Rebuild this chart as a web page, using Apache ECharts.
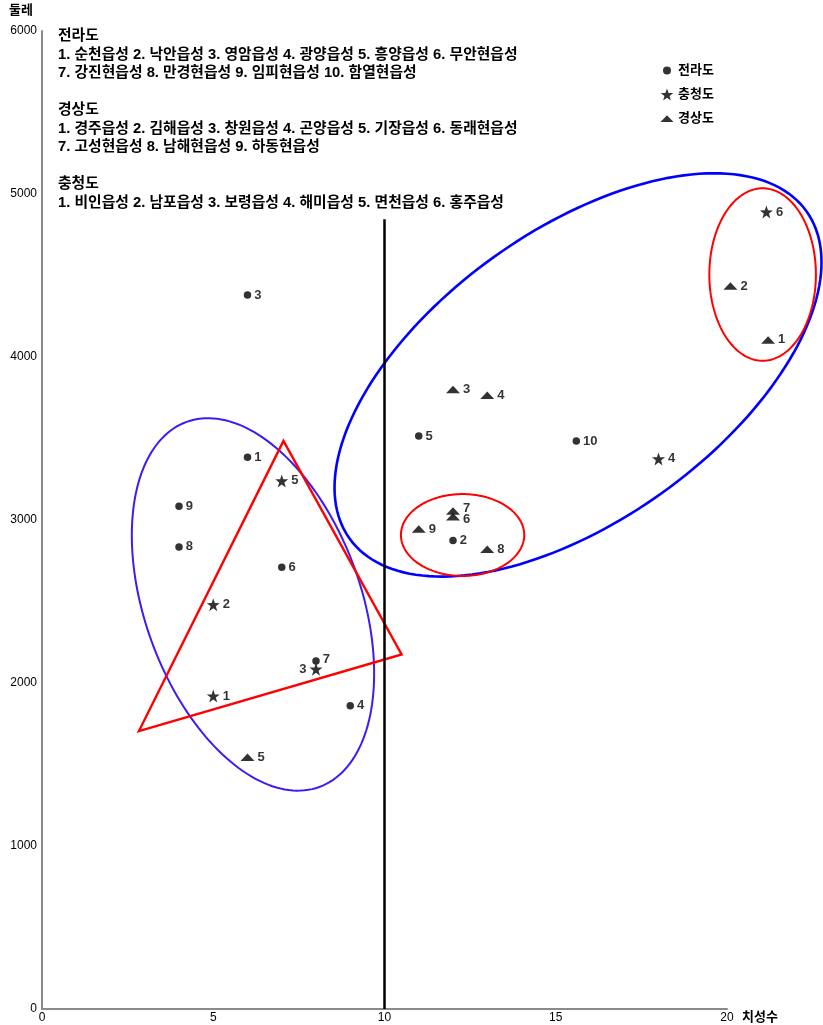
<!DOCTYPE html>
<html>
<head>
<meta charset="utf-8">
<script src="https://cdn.jsdelivr.net/npm/echarts@6/dist/echarts.min.js"></script>
<style>
  html, body { margin: 0; padding: 0; background: #fff; }
  #chart { width: 823px; height: 1025px; }
</style>
</head>
<body>
<div id="chart"></div>
<script>
// 읍성별 치성수(x)와 둘레(y)
const jeolla = [
  [6, 3385], [12, 2875], [6, 4380], [9, 1860], [11, 3515],
  [7, 2710], [8, 2135], [4, 2835], [4, 3085], [15.6, 3485]
];
const chungcheong = [
  [5, 1920], [5, 2480], [8, 2085], [18, 3375], [7, 3240], [21.15, 4890]
];
const gyeongsang = [
  [21.2, 4105], [20.1, 4435], [12, 3800], [13, 3765], [6, 1545],
  [12, 3020], [12, 3055], [13, 2820], [11, 2945]
];

const jeollaNames = ['순천읍성', '낙안읍성', '영암읍성', '광양읍성', '흥양읍성', '무안현읍성', '강진현읍성', '만경현읍성', '임피현읍성', '함열현읍성'];
const gyeongsangNames = ['경주읍성', '김해읍성', '창원읍성', '곤양읍성', '기장읍성', '동래현읍성', '고성현읍성', '남해현읍성', '하동현읍성'];
const chungcheongNames = ['비인읍성', '남포읍성', '보령읍성', '해미읍성', '면천읍성', '홍주읍성'];

const xTicks = [0, 5, 10, 15, 20];
const yTicks = [0, 1000, 2000, 3000, 4000, 5000, 6000];

// 구분선 (치성수 10)
const dividerX = 10;
const dividerTop = 4845;

// 묶음 표시: 타원은 중심과 두 켤레 반지름 벡터(데이터 단위)
const groupEllipses = [
  { c: [15.65, 3890], a: [6.67, 1004], b: [2.46, -723], color: '#0000ff', width: 2.6 },
  { c: [6.16, 2482], a: [1.936, -1120], b: [2.961, 226], color: '#3c1cf5', width: 2 },
  { c: [12.28, 2908], a: [1.80, 0], b: [0, 251], color: '#ff0000', width: 2 },
  { c: [21.04, 4506], a: [1.556, 0], b: [0, 529], color: '#ff0000', width: 2 }
];
const groupTriangle = [[7.05, 3485], [10.5, 2175], [2.83, 1705]];

const FONT = '"Liberation Sans", "Noto Sans CJK KR", sans-serif';
const TICK_FONT = '"Liberation Sans Narrow", "Liberation Sans", sans-serif';

// 오각 별 모양 경로
function starPath(cx, cy, R, r) {
  let d = '';
  for (let k = 0; k < 10; k++) {
    const ang = -Math.PI / 2 + k * Math.PI / 5;
    const rad = k % 2 === 0 ? R : r;
    const x = (cx + rad * Math.cos(ang)).toFixed(2);
    const y = (cy + rad * Math.sin(ang)).toFixed(2);
    d += (k === 0 ? 'M' : 'L') + x + ',' + y + ' ';
  }
  return d + 'Z';
}

const STAR = 'path://' + starPath(50, 52, 50, 20);
const FLAT_TRI = 'path://M0,10 L10,0 L20,10 Z';

// 범례 아이콘: 14x12 상자 안에 그린다
const LEGEND_CIRCLE = 'path://M0,0 M14,12 M7,2 A4,4 0 1 1 6.99,2 Z';
const LEGEND_STAR = 'path://M0,0 M14,12 ' + starPath(7, 6.4, 6.8, 2.8);
const LEGEND_TRI = 'path://M0,0 M14,12 M0.5,9.5 L7,2.8 L13.5,9.5 Z';

function numberedList(names, perLine) {
  const parts = names.map((n, i) => (i + 1) + '. ' + n);
  const lines = [];
  for (let i = 0; i < parts.length; i += perLine) lines.push(parts.slice(i, i + perLine).join(' '));
  return lines.join('\n');
}

const listText = [
  '전라도', numberedList(jeollaNames, 6), '',
  '경상도', numberedList(gyeongsangNames, 6), '',
  '충청도', numberedList(chungcheongNames, 6)
].join('\n');

// 겹치는 번호의 위치 조정
const labelTweaks = {
  '전라도': { 6: { offset: [0, -2] } },
  '충청도': { 2: { position: 'left' } },
  '경상도': { 5: { offset: [0, 3] }, 6: { offset: [0, -3] } }
};

function toItems(name, arr) {
  return arr.map((v, i) => {
    const t = labelTweaks[name] && labelTweaks[name][i];
    return t ? { value: v, label: t } : { value: v };
  });
}

const pointLabel = {
  show: true,
  position: 'right',
  distance: 3,
  color: '#000',
  fontFamily: FONT,
  fontWeight: 'bold',
  fontSize: 13,
  formatter: p => String(p.dataIndex + 1)
};

function ellipsePoints(api, e) {
  const pts = [];
  const n = 180;
  for (let k = 0; k <= n; k++) {
    const t = (k / n) * Math.PI * 2;
    const x = e.c[0] + Math.cos(t) * e.a[0] + Math.sin(t) * e.b[0];
    const y = e.c[1] + Math.cos(t) * e.a[1] + Math.sin(t) * e.b[1];
    pts.push(api.coord([x, y]));
  }
  return pts;
}

const chart = echarts.init(document.getElementById('chart'), null, { renderer: 'canvas' });

chart.setOption({
  animation: false,
  backgroundColor: '#fff',
  textStyle: { fontFamily: FONT },
  title: {
    text: listText,
    left: 53,
    top: 22,
    textStyle: { fontFamily: FONT, fontSize: 14.8, fontWeight: 'bold', color: '#000', lineHeight: 18.5 }
  },
  legend: {
    orient: 'vertical',
    left: 655,
    top: 59,
    itemWidth: 14,
    itemHeight: 12,
    itemGap: 11,
    itemStyle: { color: '#000' },
    data: [
      { name: '전라도', icon: LEGEND_CIRCLE },
      { name: '충청도', icon: LEGEND_STAR },
      { name: '경상도', icon: LEGEND_TRI }
    ],
    textStyle: { fontFamily: FONT, fontSize: 13, fontWeight: 'bold', color: '#000', padding: [0, 0, 0, -1] }
  },
  grid: { left: 42, right: 96, top: 31, bottom: 16, containLabel: false, outerBoundsMode: 'none' },
  xAxis: {
    type: 'value',
    min: xTicks[0],
    max: xTicks[xTicks.length - 1],
    interval: 5,
    name: '치성수',
    nameLocation: 'end',
    nameGap: 15,
    nameTextStyle: { fontFamily: FONT, fontSize: 13, fontWeight: 'bold', color: '#000', verticalAlign: 'top', lineHeight: 17 },
    axisLine: { show: true, lineStyle: { color: '#8a8a8a', width: 2 } },
    axisTick: { show: false },
    splitLine: { show: false },
    axisLabel: { margin: 3, fontFamily: TICK_FONT, fontSize: 12, color: '#000', formatter: v => String(v) }
  },
  yAxis: {
    type: 'value',
    min: yTicks[0],
    max: yTicks[yTicks.length - 1],
    interval: 1000,
    name: '둘레',
    nameLocation: 'end',
    nameGap: 14,
    nameTextStyle: { fontFamily: FONT, fontSize: 13, fontWeight: 'bold', color: '#000', align: 'right', padding: [0, 9, 0, 0] },
    axisLine: { show: true, lineStyle: { color: '#8a8a8a', width: 2 } },
    axisTick: { show: false },
    splitLine: { show: false },
    axisLabel: { margin: 5, fontFamily: TICK_FONT, fontSize: 12, color: '#000', formatter: v => String(v) }
  },
  series: [
    {
      type: 'custom',
      name: 'groups',
      silent: true,
      clip: false,
      z: 1,
      data: [0],
      renderItem: function (params, api) {
        const children = groupEllipses.map(e => ({
          type: 'polyline',
          shape: { points: ellipsePoints(api, e) },
          style: { stroke: e.color, lineWidth: e.width, fill: null }
        }));
        children.push({
          type: 'polygon',
          shape: { points: groupTriangle.map(p => api.coord(p)) },
          style: { stroke: '#ff0000', lineWidth: 2.4, fill: null, lineJoin: 'miter' }
        });
        const p0 = api.coord([dividerX, 0]);
        const p1 = api.coord([dividerX, dividerTop]);
        children.push({
          type: 'line',
          shape: { x1: p0[0], y1: p0[1], x2: p1[0], y2: p1[1] },
          style: { stroke: '#000', lineWidth: 2.5 }
        });
        return { type: 'group', children: children };
      }
    },
    {
      type: 'scatter',
      name: '전라도',
      clip: false,
      z: 3,
      symbol: 'circle',
      symbolSize: 7.5,
      itemStyle: { color: '#000' },
      label: pointLabel,
      data: toItems('전라도', jeolla)
    },
    {
      type: 'scatter',
      name: '충청도',
      clip: false,
      z: 3,
      symbol: STAR,
      symbolSize: 13,
      itemStyle: { color: '#000' },
      label: pointLabel,
      data: toItems('충청도', chungcheong)
    },
    {
      type: 'scatter',
      name: '경상도',
      clip: false,
      z: 3,
      symbol: FLAT_TRI,
      symbolSize: [14, 7.5],
      itemStyle: { color: '#000' },
      label: pointLabel,
      data: toItems('경상도', gyeongsang)
    }
  ]
});
</script>
</body>
</html>
